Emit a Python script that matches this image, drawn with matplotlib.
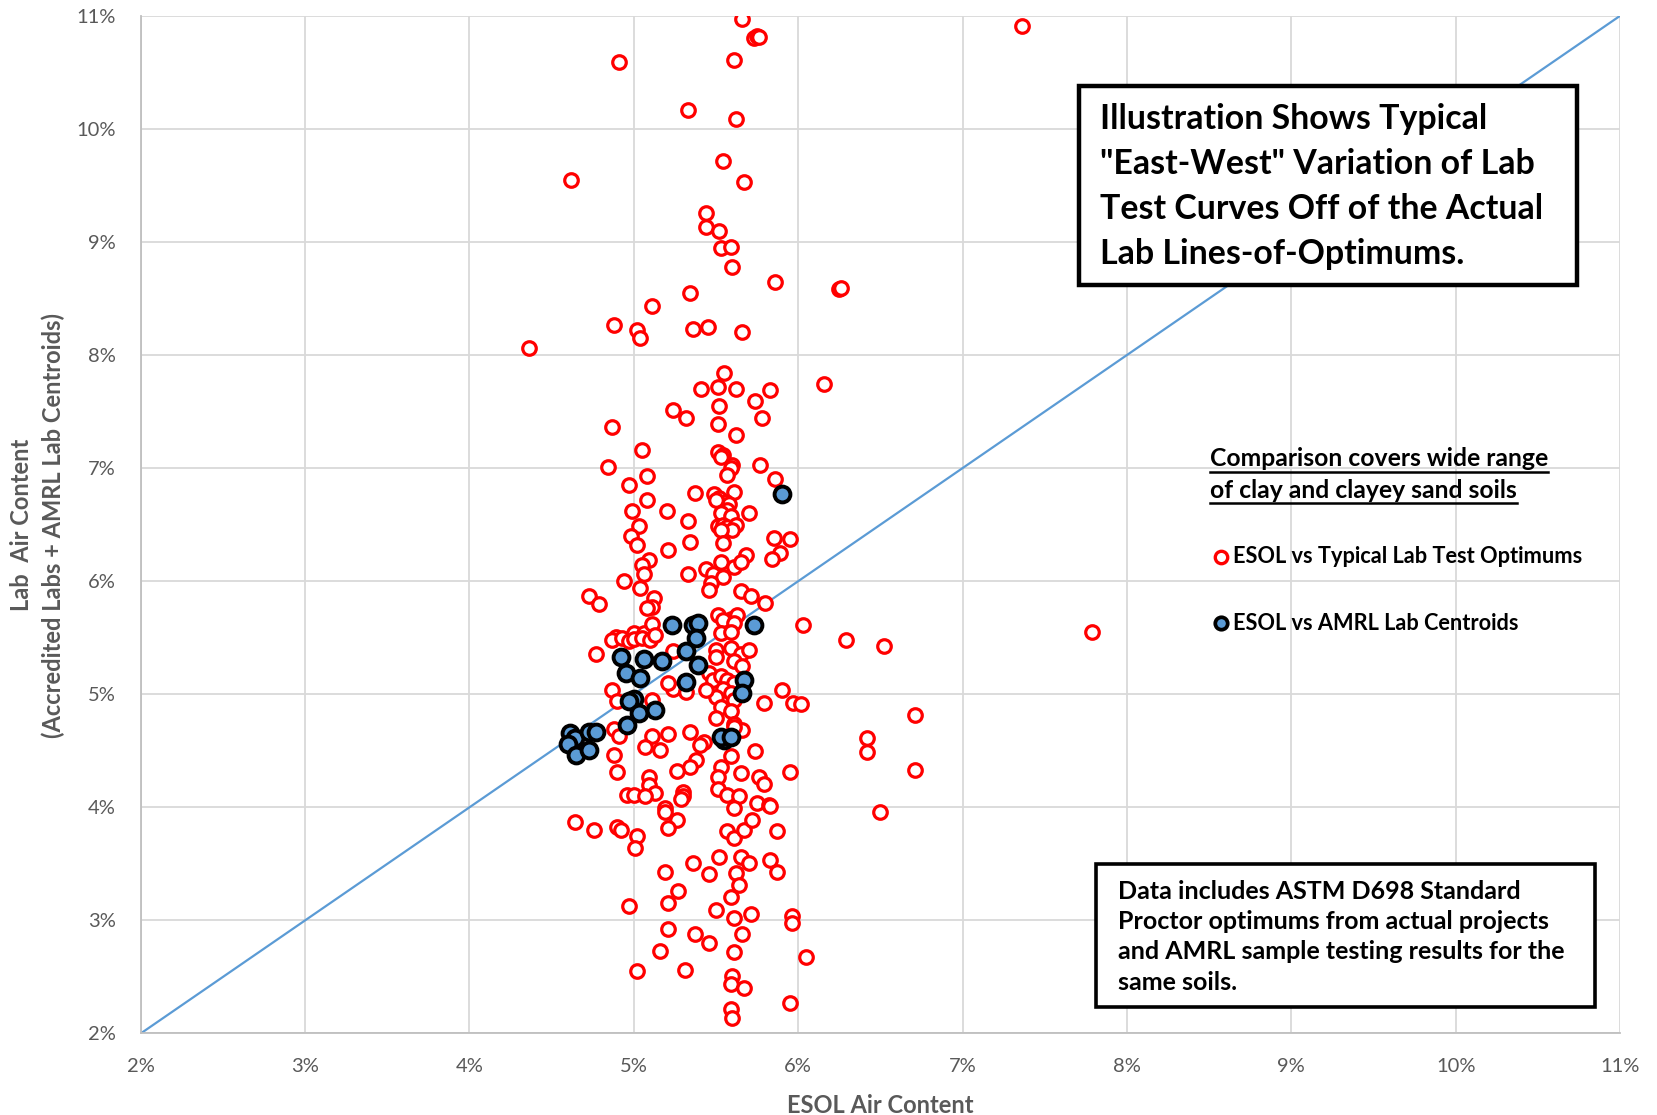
import numpy as np
import matplotlib.pyplot as plt
from matplotlib.patches import Rectangle
from matplotlib.ticker import FuncFormatter, MultipleLocator

plt.rcParams['font.family'] = ['Lato', 'DejaVu Sans']

# ESOL vs typical lab test optimums (air content, %)
esol_lab = [
    5.66, 5.73, 5.75, 5.76, 5.61, 4.91, 5.33, 5.62, 5.54, 4.62, 5.67, 5.44, 5.44, 5.52,
    5.53, 5.59, 5.60, 5.86, 6.25, 6.26, 5.34, 5.11, 4.88, 5.02, 5.04, 5.36, 5.45, 5.66,
    4.36, 5.55, 5.41, 5.51, 5.62, 5.83, 6.16, 5.74, 5.52, 5.24, 5.32, 5.78, 5.51, 4.87,
    5.62, 5.05, 5.51, 5.54, 5.53, 5.60, 5.77, 4.84, 7.36,
    5.08, 4.97, 5.59, 5.57, 5.86, 5.37, 5.61, 5.49, 5.52, 5.56, 5.58, 5.50, 5.08, 5.20,
    4.99, 5.70, 5.57, 5.53, 5.59, 5.33, 5.03, 5.51, 5.54, 5.57, 5.62, 5.60, 5.53, 4.98,
    5.02, 5.34, 5.54, 5.85, 5.95, 5.21, 5.68, 5.89, 5.84, 5.09, 5.05, 5.06, 5.33, 5.44,
    5.53, 5.61, 5.65, 5.48, 5.54, 5.47, 5.46, 4.94, 5.04, 4.73, 4.79, 5.12, 5.11, 5.08,
    5.65, 5.71, 5.80, 5.51, 5.59, 5.63, 5.54, 5.61, 6.03, 6.29, 4.89, 5.00, 5.06, 5.11,
    5.53, 5.59,
    4.87, 4.93, 4.97, 5.00, 5.05, 5.10, 5.13, 4.77, 5.24, 5.50, 5.59, 5.65, 5.70, 5.61,
    5.66, 5.50, 5.46, 5.48, 5.53, 5.57, 5.61, 5.54, 5.59, 5.50, 5.61, 5.53, 5.59, 5.50,
    5.61, 5.24, 5.32, 5.21, 5.44, 4.87, 4.90, 5.11, 5.90, 5.79, 5.97, 6.02, 5.34, 5.21,
    5.11, 4.88, 4.91, 5.43, 5.40, 5.66, 5.61, 5.07, 5.16, 4.88, 5.38, 5.34, 5.26, 5.59,
    5.53, 5.51, 5.74, 5.65, 5.76, 5.79, 5.95, 4.90, 5.09, 5.09, 5.13, 5.30, 5.30, 4.96,
    5.00, 5.07, 5.51, 5.57, 5.64, 5.75, 5.82, 5.19,
    4.64, 4.76, 4.90, 4.92, 5.02, 5.01, 5.19, 5.26, 5.21, 5.29, 5.57, 5.61, 5.67, 5.72,
    5.61, 5.83, 5.87, 5.52, 5.36, 5.65, 5.70, 5.83, 5.87, 5.19, 5.46, 5.62, 5.64, 5.59,
    5.27, 5.21, 4.97, 5.50, 5.61, 5.71, 5.96, 5.96, 5.21, 5.37, 5.46, 5.66, 5.16, 5.61,
    6.05, 5.02, 5.31, 5.60, 5.59, 5.67, 5.95, 5.59, 5.60,
    6.52, 7.79, 6.71, 6.42, 6.42, 6.71, 6.50,
]
lab_opt = [
    10.97, 10.80, 10.82, 10.81, 10.61, 10.59, 10.17, 10.09, 9.72, 9.55, 9.53, 9.26, 9.13, 9.10,
    8.95, 8.96, 8.78, 8.65, 8.58, 8.59, 8.55, 8.43, 8.27, 8.22, 8.15, 8.23, 8.25, 8.20,
    8.06, 7.84, 7.70, 7.72, 7.70, 7.69, 7.74, 7.59, 7.55, 7.51, 7.44, 7.44, 7.39, 7.36,
    7.29, 7.16, 7.14, 7.12, 7.10, 7.03, 7.03, 7.01, 10.91,
    6.93, 6.85, 7.00, 6.94, 6.90, 6.78, 6.79, 6.77, 6.74, 6.70, 6.68, 6.72, 6.72, 6.62,
    6.62, 6.60, 6.63, 6.60, 6.58, 6.53, 6.49, 6.49, 6.50, 6.48, 6.50, 6.45, 6.45, 6.40,
    6.32, 6.35, 6.34, 6.38, 6.37, 6.28, 6.23, 6.25, 6.20, 6.19, 6.14, 6.06, 6.06, 6.11,
    6.17, 6.13, 6.17, 6.06, 6.04, 5.98, 5.92, 6.00, 5.94, 5.87, 5.80, 5.85, 5.77, 5.76,
    5.91, 5.87, 5.81, 5.70, 5.67, 5.70, 5.66, 5.63, 5.61, 5.48, 5.51, 5.54, 5.54, 5.62,
    5.54, 5.55,
    5.48, 5.50, 5.47, 5.49, 5.50, 5.48, 5.52, 5.36, 5.38, 5.39, 5.41, 5.36, 5.39, 5.29,
    5.25, 5.33, 5.19, 5.13, 5.16, 5.13, 5.10, 5.05, 5.01, 4.98, 4.95, 4.89, 4.85, 4.79,
    4.74, 5.05, 5.02, 5.10, 5.04, 5.04, 4.94, 4.95, 5.04, 4.92, 4.92, 4.91, 4.67, 4.65,
    4.63, 4.69, 4.63, 4.58, 4.55, 4.68, 4.71, 4.53, 4.51, 4.46, 4.42, 4.36, 4.32, 4.45,
    4.36, 4.27, 4.50, 4.30, 4.27, 4.21, 4.31, 4.31, 4.27, 4.20, 4.13, 4.14, 4.10, 4.11,
    4.11, 4.10, 4.16, 4.11, 4.10, 4.04, 4.02, 3.99,
    3.87, 3.80, 3.83, 3.80, 3.75, 3.64, 3.96, 3.89, 3.82, 4.07, 3.79, 3.73, 3.80, 3.89,
    3.99, 4.01, 3.79, 3.56, 3.51, 3.56, 3.51, 3.53, 3.43, 3.43, 3.41, 3.42, 3.31, 3.21,
    3.26, 3.15, 3.13, 3.09, 3.02, 3.06, 3.04, 2.98, 2.92, 2.88, 2.80, 2.88, 2.73, 2.72,
    2.68, 2.55, 2.56, 2.51, 2.44, 2.40, 2.27, 2.22, 2.14,
    5.43, 5.55, 4.82, 4.61, 4.49, 4.33, 3.96,
]

# ESOL vs AMRL lab centroids
esol_amrl = [5.23, 5.36, 5.39, 5.38, 5.73, 4.92, 5.06, 5.17, 5.32, 5.39, 4.95, 5.04,
             5.32, 5.67, 5.66, 5.00, 4.97, 5.03, 5.13, 4.96, 5.55, 5.53, 5.59, 4.61,
             4.64, 4.73, 4.77, 4.60, 4.65, 4.73, 5.90]
lab_amrl = [5.61, 5.61, 5.63, 5.50, 5.61, 5.33, 5.31, 5.29, 5.38, 5.26, 5.19, 5.14,
            5.11, 5.13, 5.01, 4.96, 4.94, 4.83, 4.86, 4.73, 4.60, 4.62, 4.62, 4.66,
            4.61, 4.67, 4.67, 4.56, 4.46, 4.51, 6.77]

axis_ticks = [2, 3, 4, 5, 6, 7, 8, 9, 10, 11]

red = '#FF0000'
blue = '#5B9BD5'
gray_txt = '#595959'

fig = plt.figure(figsize=(16.57, 11.15), dpi=100)
ax = fig.add_axes([0.0849, 0.0731, 0.8928, 0.9127])

ax.plot([axis_ticks[0], axis_ticks[-1]], [axis_ticks[0], axis_ticks[-1]],
        color=blue, lw=1.6, zorder=2)
ax.scatter(esol_lab, lab_opt, s=95, facecolors='white', edgecolors=red,
           linewidths=2.3, zorder=3)
ax.scatter(esol_amrl, lab_amrl, s=130, facecolors=blue, edgecolors='black',
           linewidths=2.8, zorder=4)

ax.set_xlim(axis_ticks[0], axis_ticks[-1])
ax.set_ylim(axis_ticks[0], axis_ticks[-1])
ax.xaxis.set_major_locator(MultipleLocator(1))
ax.yaxis.set_major_locator(MultipleLocator(1))
pct = FuncFormatter(lambda v, p: '%d%%' % round(v))
ax.xaxis.set_major_formatter(pct)
ax.yaxis.set_major_formatter(pct)
ax.grid(True, color='#D9D9D9', lw=1.3, zorder=0)
ax.set_axisbelow(True)
for s in ['top', 'right']:
    ax.spines[s].set_visible(False)
for s in ['left', 'bottom']:
    ax.spines[s].set_color('#BFBFBF')
    ax.spines[s].set_linewidth(1.3)
ax.tick_params(length=0, labelsize=14.5, labelcolor=gray_txt, pad=18)

ax.set_xlabel('ESOL Air Content', fontsize=17, fontweight='bold', color=gray_txt,
              labelpad=13)
fig.text(0.013, 0.529, 'Lab  Air Content', rotation=90, fontsize=17,
         fontweight='bold', color=gray_txt, ha='center', va='center')
fig.text(0.032, 0.529, '(Accredited Labs + AMRL Lab Centroids)', rotation=90,
         fontsize=17, fontweight='bold', color=gray_txt, ha='center', va='center')

# headline box
ax.add_patch(Rectangle((0.6343, 0.7352), 0.3364, 0.1963, transform=ax.transAxes,
                       fc='white', ec='black', lw=3.2, zorder=6))
ax.text(0.6486, 0.8320,
        'Illustration Shows Typical\n"East-West" Variation of Lab\n'
        'Test Curves Off of the Actual\nLab Lines-of-Optimums.',
        transform=ax.transAxes, fontsize=24.4, fontweight='bold', va='center',
        ha='left', linespacing=1.5, zorder=7)

# notes box
ax.add_patch(Rectangle((0.6457, 0.0260), 0.3372, 0.1401, transform=ax.transAxes,
                       fc='white', ec='black', lw=2.6, zorder=6))
ax.text(0.6607, 0.0950,
        'Data includes ASTM D698 Standard\nProctor optimums from actual projects\n'
        'and AMRL sample testing results for the\nsame soils.',
        transform=ax.transAxes, fontsize=18, fontweight='bold', va='center',
        ha='left', linespacing=1.38, zorder=7)

# underlined heading
head1 = ax.text(0.7229, 0.5649, 'Comparison covers wide range', transform=ax.transAxes,
                fontsize=17.8, fontweight='bold', va='center', ha='left')
head2 = ax.text(0.7229, 0.5337, 'of clay and clayey sand soils', transform=ax.transAxes,
                fontsize=17.8, fontweight='bold', va='center', ha='left')
fig.canvas.draw()
rend = fig.canvas.get_renderer()
inv = ax.transAxes.inverted()
for t, yy in [(head1, 0.5514), (head2, 0.5210)]:
    bb = t.get_window_extent(rend)
    x0 = inv.transform((bb.x0, 0))[0]
    x1 = inv.transform((bb.x1, 0))[0]
    ax.plot([x0, x1], [yy, yy], transform=ax.transAxes, color='black', lw=1.8)

# marker key
ax.scatter([0.7300], [0.4683], transform=ax.transAxes, s=80, facecolors='white',
           edgecolors=red, linewidths=2.4, zorder=6)
ax.text(0.7386, 0.4683, 'ESOL vs Typical Lab Test Optimums', transform=ax.transAxes,
        fontsize=15.7, fontweight='bold', va='center', ha='left')
ax.scatter([0.7300], [0.4029], transform=ax.transAxes, s=80, facecolors=blue,
           edgecolors='black', linewidths=2.7, zorder=6)
ax.text(0.7386, 0.4029, 'ESOL vs AMRL Lab Centroids', transform=ax.transAxes,
        fontsize=15.7, fontweight='bold', va='center', ha='left')

fig.savefig('out.png', dpi=100)
